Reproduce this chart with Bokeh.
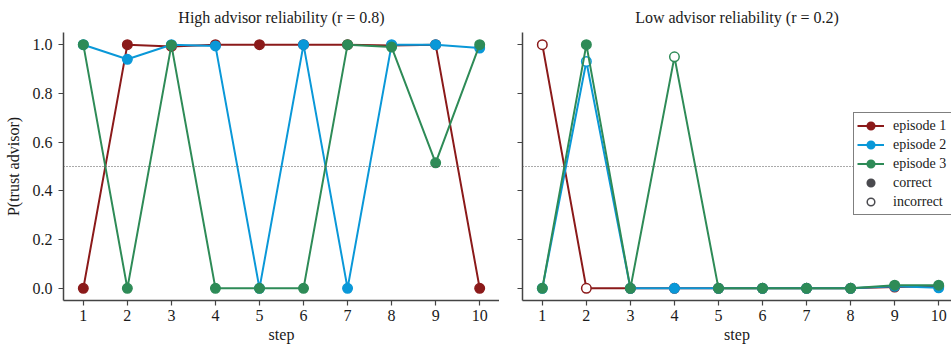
from bokeh.plotting import figure
from bokeh.layouts import row
from bokeh.models import (ColumnDataSource, FixedTicker, PrintfTickFormatter, Span,
                          Legend, LegendItem, Range1d)
from bokeh.embed import file_html
from bokeh.resources import INLINE

# ---------------- data ----------------
steps = [1, 2, 3, 4, 5, 6, 7, 8, 9, 10]
x_ticks = [1, 2, 3, 4, 5, 6, 7, 8, 9, 10]
y_ticks = [0.0, 0.2, 0.4, 0.6, 0.8, 1.0]

episode_labels = ["episode 1", "episode 2", "episode 3"]
episode_colors = ["#8b1a1a", "#0a98d8", "#2e8b57"]

titles = ["High advisor reliability (r = 0.8)", "Low advisor reliability (r = 0.2)"]

# High reliability (r = 0.8)
high_ep1 = [0.0, 1.0, 0.993, 1.0, 1.0, 1.0, 1.0, 0.997, 1.0, 0.0]
high_ep2 = [1.0, 0.94, 1.0, 0.995, 0.0, 1.0, 0.0, 1.0, 1.0, 0.986]
high_ep3 = [1.0, 0.0, 0.998, 0.0, 0.0, 0.0, 1.0, 0.99, 0.515, 1.0]
high_ok1 = [1, 1, 1, 1, 1, 1, 1, 1, 1, 1]
high_ok2 = [1, 1, 1, 1, 1, 1, 1, 1, 1, 1]
high_ok3 = [1, 1, 1, 1, 1, 1, 1, 1, 1, 1]

# Low reliability (r = 0.2)
low_ep1 = [1.0, 0.0, 0.0, 0.0, 0.0, 0.0, 0.0, 0.0, 0.005, 0.008]
low_ep2 = [0.0, 0.931, 0.0, 0.0, 0.0, 0.0, 0.0, 0.0, 0.008, 0.002]
low_ep3 = [0.0, 1.0, 0.0, 0.95, 0.0, 0.0, 0.0, 0.0, 0.013, 0.013]
low_ok1 = [0, 0, 1, 1, 1, 1, 1, 1, 1, 1]
low_ok2 = [1, 0, 1, 1, 1, 1, 1, 1, 1, 1]
low_ok3 = [1, 1, 1, 0, 1, 1, 1, 1, 1, 1]

FONT = "Liberation Serif"
TEXT = "#1a1a1a"
SPINE = "#444444"
NEUTRAL = "#4a4a4f"


def style(p, show_ylabels):
    p.outline_line_color = None
    p.xgrid.visible = False
    p.ygrid.visible = False
    p.background_fill_color = "white"
    p.border_fill_color = "white"
    p.title.text_font = FONT
    p.title.text_font_size = "16px"
    p.title.text_font_style = "normal"
    p.title.text_color = TEXT
    p.title.align = "center"
    p.title.standoff = 13
    for ax in (p.xaxis[0], p.yaxis[0]):
        ax.axis_line_color = SPINE
        ax.axis_line_width = 1.5
        ax.major_tick_line_color = SPINE
        ax.major_tick_line_width = 1.2
        ax.major_tick_out = 5
        ax.major_tick_in = 0
        ax.minor_tick_line_color = None
        ax.major_label_text_font = FONT
        ax.major_label_text_font_size = "16px"
        ax.major_label_text_color = TEXT
        ax.axis_label_text_font = FONT
        ax.axis_label_text_font_size = "16px"
        ax.axis_label_text_font_style = "normal"
        ax.axis_label_text_color = TEXT
    p.xaxis.ticker = FixedTicker(ticks=x_ticks)
    p.yaxis.ticker = FixedTicker(ticks=y_ticks)
    p.yaxis.formatter = PrintfTickFormatter(format="%.1f")
    p.xaxis.axis_label = "step"
    p.xaxis.major_label_standoff = 4
    p.xaxis.axis_label_standoff = 2
    if show_ylabels:
        p.yaxis.axis_label = "P(trust advisor)"
        p.yaxis.major_label_standoff = 6
        p.yaxis.axis_label_standoff = 8
    else:
        p.yaxis.major_label_text_color = None
        p.yaxis.major_label_text_font_size = "9px"
        p.yaxis.major_label_standoff = 0


def add_series(p, series, oks):
    for ys, ok, col in zip(series, oks, episode_colors):
        fills = [col if o else "white" for o in ok]
        src = ColumnDataSource(dict(x=steps, y=ys, fill=fills))
        p.line("x", "y", source=src, line_color=col, line_width=2)
        p.scatter("x", "y", source=src, size=9.5, fill_color="fill",
                  line_color=col, line_width=1.5)


yr = Range1d(-0.05, 1.05)

p1 = figure(width=499, height=352, x_range=Range1d(0.55, 10.45), y_range=yr,
            output_backend="svg", toolbar_location=None, title=titles[0],
            min_border_left=63, min_border_right=0, min_border_top=30,
            min_border_bottom=52)
style(p1, True)
p1.add_layout(Span(location=0.5, dimension="width", line_color="#555555",
                   line_width=1, line_dash="1 2"))
add_series(p1, [high_ep1, high_ep2, high_ep3], [high_ok1, high_ok2, high_ok3])

p2 = figure(width=452, height=352, x_range=Range1d(0.55, 10.291), y_range=yr,
            output_backend="svg", toolbar_location=None, title=titles[1],
            min_border_left=23, min_border_right=0, min_border_top=30,
            min_border_bottom=52)
style(p2, False)
p2.add_layout(Span(location=0.5, dimension="width", line_color="#555555",
                   line_width=1, line_dash="1 2"))
add_series(p2, [low_ep1, low_ep2, low_ep3], [low_ok1, low_ok2, low_ok3])

# legend-only renderers (placed outside the visible range)
items = []
for lab, col in zip(episode_labels, episode_colors):
    d = ColumnDataSource(dict(x=[-20, -19], y=[-20, -20]))
    ln = p2.line("x", "y", source=d, line_color=col, line_width=2)
    sc = p2.scatter("x", "y", source=d, size=9.5, fill_color=col,
                    line_color=col, line_width=1.5)
    items.append(LegendItem(label=lab, renderers=[ln, sc]))
d_ok = ColumnDataSource(dict(x=[-20], y=[-20]))
c_ok = p2.scatter("x", "y", source=d_ok, size=10, fill_color=NEUTRAL,
                  line_color=NEUTRAL, line_width=1.5)
d_bad = ColumnDataSource(dict(x=[-20], y=[-20]))
c_bad = p2.scatter("x", "y", source=d_bad, size=9.5, fill_color="white",
                   line_color=NEUTRAL, line_width=1.5)
items.append(LegendItem(label="correct", renderers=[c_ok]))
items.append(LegendItem(label="incorrect", renderers=[c_bad]))

legend = Legend(items=items, location=(331, 85), padding=3, margin=0, spacing=0,
                glyph_width=27, glyph_height=19, label_height=19, label_width=56,
                label_standoff=9, label_text_font=FONT, label_text_font_size="14px",
                label_text_color=TEXT, border_line_color="black",
                border_line_width=1.5, background_fill_color="white",
                background_fill_alpha=1.0)
p2.add_layout(legend)

layout = row(p1, p2)
open("out.html", "w").write(file_html(layout, INLINE))
